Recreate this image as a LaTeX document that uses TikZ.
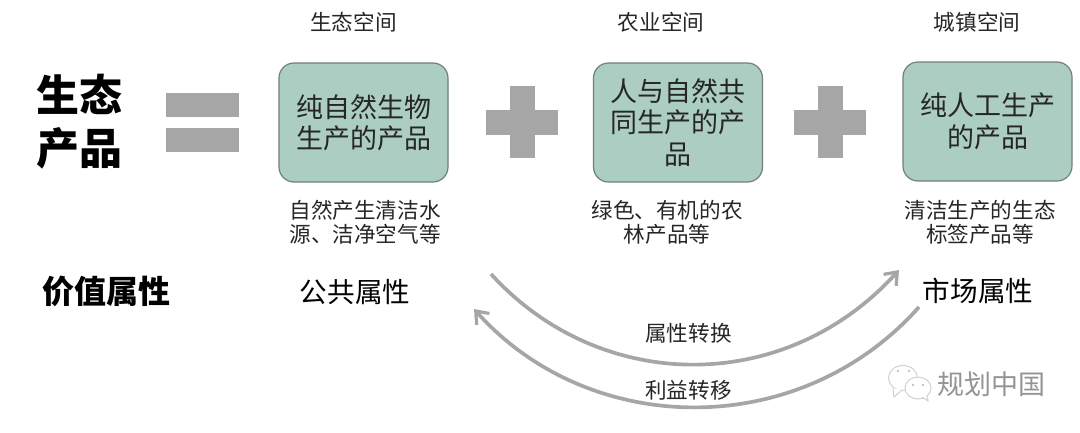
\documentclass[tikz,border=0pt]{standalone}
\usepackage{fontspec}
\setmainfont{Noto Sans CJK SC}
\usepackage{xcolor}
\usetikzlibrary{arrows.meta,positioning,shapes.geometric}
\definecolor{c1}{RGB}{171,205,194}
\definecolor{c2}{RGB}{166,166,166}
\definecolor{c3}{RGB}{112,128,120}
\definecolor{c4}{RGB}{38,38,38}
\tikzset{
  prodbox/.style={draw=c3, line width=1.2pt, fill=c1, rounded corners=15pt, minimum width=169pt, minimum height=119pt, align=center, inner sep=0pt, text=c4, font=\fontsize{27}{31.5}\selectfont},
  bar/.style={fill=c2, inner sep=0pt},
  spacelabel/.style={font=\fontsize{21.6}{24}\selectfont, align=center, text=c4},
  attrlabel/.style={font=\fontsize{27.6}{31}\selectfont, text=black},
  boldlabel/.style={font=\bfseries\fontsize{32}{36}\selectfont, text=black},
  edge/.style={-{Straight Barb[length=11pt,width=17pt,line width=3.2pt]}, line width=3.7pt, draw=c2},
  logo/.style={draw=black!18, fill=white, line width=1pt}
}
\begin{document}
\begin{tikzpicture}[x=1pt, y=-1pt]
    \useasboundingbox (0,0) rectangle (1080,432);

    % left title and equals sign
    \node [boldlabel, font=\bfseries\fontsize{43}{53}\selectfont, align=center] (title) at (79.5,122) {生态\\产品};
    \node [bar, minimum width=73pt, minimum height=24pt] (eqtop) at (202.5,105) {};
    \node [bar, minimum width=73pt, minimum height=24pt] (eqbot) at (202.5,140) {};

    % the three product boxes
    \node [prodbox] (nature) at (363.5,122.5) {纯自然生物\\生产的产品};
    \node [prodbox] (farm) at (678,122.5) {人与自然共\\同生产的产\\品};
    \node [prodbox] (town) at (987.5,121.5) {纯人工生产\\的产品};

    % plus signs
    \foreach \px/\nm in {522/plusa, 830/plusb} {
      \node [bar, minimum width=72pt, minimum height=25pt] (\nm h) at (\px,122) {};
      \node [bar, minimum width=25pt, minimum height=72pt] (\nm v) at (\px,122) {};
    }

    % headings
    \node [spacelabel] (natureh) at (353.5,22) {生态空间};
    \node [spacelabel] (farmh) at (661,22) {农业空间};
    \node [spacelabel] (townh) at (977,22) {城镇空间};

    % examples
    \node [spacelabel] (naturex) at (365,222.5) {自然产生清洁水\\源、洁净空气等};
    \node [spacelabel] (farmx) at (667,222.5) {绿色、有机的农\\林产品等};
    \node [spacelabel] (townx) at (980,222.5) {清洁生产的生态\\标签产品等};

    % attributes
    \node [boldlabel] (value) at (106,291) {价值属性};
    \node [attrlabel] (public) at (355,292) {公共属性};
    \node [attrlabel] (market) at (978,291) {市场属性};

    % arcs
    \coordinate (conva) at (491,274);
    \coordinate (convb) at (899,270);
    \coordinate (gaina) at (919,307);
    \coordinate (gainb) at (474,309);
    \draw [edge] (conva) .. controls (600,394) and (785,396) .. (convb);
    \draw [edge] (gaina) .. controls (800,441) and (590,439) .. (gainb);
    \node [spacelabel] (convert) at (688.5,333) {属性转换};
    \node [spacelabel] (transfer) at (688.5,390) {利益转移};

    % watermark
    \draw [logo] (903,378) ellipse [x radius=14.5, y radius=12.5];
    \draw [logo] (893,388) -- (894,397) -- (902,390);
    \draw [logo] (918,388) ellipse [x radius=13, y radius=11];
    \draw [logo] (922,397) -- (928,401) -- (927,396);
    \fill [black!30] (898,371) circle (1.2) (909,371) circle (1.2) (913,385) circle (1.2) (923,385) circle (1.2);
    \node [font=\fontsize{27}{31}\selectfont, text=black!42] (mark) at (991,384) {规划中国};
\end{tikzpicture}
\end{document}
